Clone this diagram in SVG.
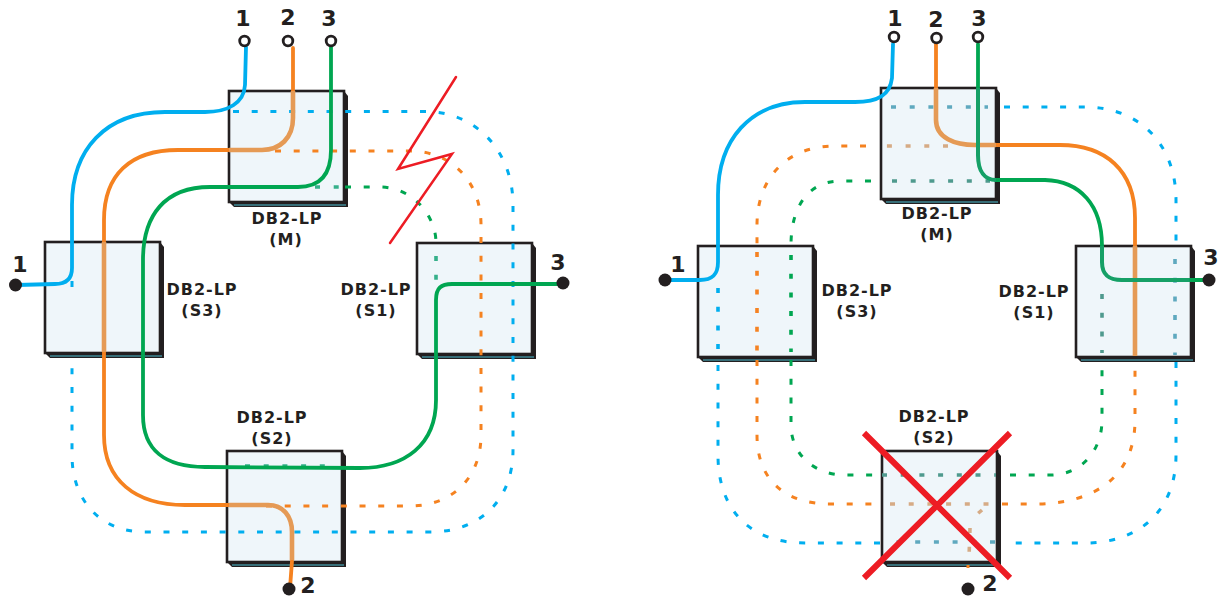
<svg xmlns="http://www.w3.org/2000/svg" width="1219" height="596" viewBox="0 0 1219 596">
<style>
text{font-family:"DejaVu Sans",Verdana,sans-serif;font-weight:700;fill:#231f20}
.lb{font-size:16px;text-anchor:middle;letter-spacing:1px}
.n{font-size:22px;text-anchor:middle}
.w{fill:none;stroke-width:3.8;stroke-linecap:round}
.d{fill:none;stroke-width:3;stroke-dasharray:6 12.7}
.v{fill:none;stroke-width:3.6;stroke-dasharray:5 13.7;filter:url(#s)}
.b{stroke:#00aeef}.o{stroke:#f58220}.g{stroke:#00a651}
.fo{fill:none;stroke:#e59a55;stroke-width:4.6;filter:url(#s)}
.fg{fill:none;stroke:#12a066;stroke-width:4;filter:url(#s)}
.fd{fill:none;stroke-width:3.6;stroke-dasharray:5 13.7;filter:url(#s)}
.db{stroke:#5fa9bf}.do{stroke:#d6ab85}.dg{stroke:#4f9a8e}.dl{stroke:#35b08a}
.dot{fill:#231f20}
.ring{fill:#fff;stroke:#231f20;stroke-width:2.8}
.red{fill:none;stroke:#ed1c24;stroke-linecap:round}
</style>
<defs>
<filter id="s" filterUnits="userSpaceOnUse" x="0" y="0" width="1219" height="596"><feGaussianBlur stdDeviation="0.6"/></filter>
<g id="box">
<path d="M0 0H115L119 5V116H5L0 111Z" fill="#231f20"/>
<rect x="0" y="0" width="115" height="111" fill="#eff6fa" stroke="#231f20" stroke-width="2.6"/>
<path d="M5 114H117" stroke="#3f8a96" stroke-width="1.3" fill="none"/>
</g>
</defs>

<g id="left-M"><use href="#box" transform="translate(229,91)"/><text class="lb" x="287" y="224">DB2-LP</text><text class="lb" x="286" y="245">(M)</text></g>
<g id="left-S3"><use href="#box" transform="translate(45,242)"/><text class="lb" x="202" y="295">DB2-LP</text><text class="lb" x="202" y="316">(S3)</text></g>
<g id="left-S1"><use href="#box" transform="translate(417,243)"/><text class="lb" x="376" y="295">DB2-LP</text><text class="lb" x="376" y="316">(S1)</text></g>
<g id="left-S2"><use href="#box" transform="translate(227,451)"/><text class="lb" x="272" y="423">DB2-LP</text><text class="lb" x="272" y="444">(S2)</text></g>
<g id="right-M"><use href="#box" transform="translate(881,88)"/><text class="lb" x="937" y="219">DB2-LP</text><text class="lb" x="937" y="240">(M)</text></g>
<g id="right-S3"><use href="#box" transform="translate(698,246)"/><text class="lb" x="857" y="296">DB2-LP</text><text class="lb" x="857" y="317">(S3)</text></g>
<g id="right-S1"><use href="#box" transform="translate(1076,246)"/><text class="lb" x="1034" y="297">DB2-LP</text><text class="lb" x="1034" y="318">(S1)</text></g>
<g id="right-S2"><use href="#box" transform="translate(882,451)"/><text class="lb" x="934" y="422">DB2-LP</text><text class="lb" x="934" y="443">(S2)</text></g>

<g id="connectors">
<path class="d b" d="M233 111.500H425C475 111.500 513 150 513 205V450C513 500 480 532 430 532H145C100 532 72 500 72 455V358"/>
<path class="d b" d="M72 281V287"/>
<path class="d o" d="M275 151H410C450 151 481 180 481 225V435C481 480 450 506 410 506H266"/>
<path class="d g" d="M345 187H380C412 187 436 215 436 243"/>
<path class="fd dl" d="M315 187H343"/>
<path class="fd dl" d="M436 256V285"/>
<path class="fd dl" d="M245 466H328"/>
<path class="w b" d="M246 47L245 85C244 103 228 112 205 112H165C105 112 72 150 72 205V268C72 280 65 284 55 284L17 285"/>
<path class="w o" d="M293 48V91M229 150H178C130 150 104 175 104 220V242M104 352V435C104 480 135 505 185 505H229M292 561L290 588"/>
<path class="fo" d="M293 91V118C293 138 280 150 262 150H229"/>
<path class="fo" d="M104 242V352"/>
<path class="fo" d="M229 505H268C283 505 292 516 292 532V560"/>
<path class="w g" d="M331 46V150C331 175 320 187 298 187H210C165 187 143 215 143 260V415C143 450 165 467 205 467L360 468C405 468 436 445 436 400V300C436 288 441 284 452 284L563 284"/>
<path class="fd db" d="M891 107H988"/>
<path class="d b" d="M1004 107H1085C1140 107 1176 145 1176 200V248"/>
<path class="fd db" d="M1175 259V355"/>
<path class="d b" d="M1176 362V455C1176 510 1140 543 1085 543H1004"/>
<path class="fd db" d="M995 542H888"/>
<path class="d b" d="M880 543H805C750 543 718 510 718 455V360"/>
<path class="v b" d="M718 288V352"/>
<path class="fd do" d="M948 146H876"/>
<path class="d o" d="M866 146H835C785 146 757 180 757 225V245"/>
<path class="v o" d="M757 252V352"/>
<path class="d o" d="M757 360V435C757 480 785 504 830 504H878"/>
<path class="fd do" d="M890 504H995"/>
<path class="d o" d="M1002 504H1035C1090 504 1135 480 1135 420V360"/>
<path class="fd do" d="M982 510L975 516M970 528L969 558"/>
<path class="d o" d="M968 565V568"/>
<path class="d g" d="M871 181H840C810 181 791 205 791 245"/>
<path class="fd dg" d="M892 181H990"/>
<path class="v g" d="M791 255V352"/>
<path class="d g" d="M791 360V425C791 455 815 475 845 475H880"/>
<path class="fd dg" d="M882 475H996"/>
<path class="d g" d="M1010 475H1050C1082 475 1102 450 1102 420V362"/>
<path class="fd dg" d="M1102 294V353"/>
<path class="w b" d="M893 44L892 78C890 95 878 102 855 102H805C750 102 718 140 718 195V262C718 275 712 280 700 280H668"/>
<path class="w o" d="M936 44V88M996 145H1060C1105 145 1135 170 1135 218V246"/>
<path class="fo" d="M936 88V120C936 138 955 145 975 145H996M1135 246V356"/>
<path class="w g" d="M978 44V88M996 180H1045C1080 181 1102 205 1102 246"/>
<path class="fg" d="M978 88V155C978 172 985 180 996 180M1102 246V262C1102 276 1110 280 1122 280H1191"/>
<path class="w g" d="M1191 280H1206"/>
</g>

<g id="terminals">
<circle class="ring" cx="244.500" cy="41" r="4.800"/><circle class="ring" cx="288" cy="41" r="4.800"/><circle class="ring" cx="331" cy="41" r="4.800"/>
<circle class="dot" cx="15.500" cy="285" r="6.500"/><circle class="dot" cx="563" cy="283" r="6.500"/><circle class="dot" cx="289" cy="589" r="6.500"/>
<circle class="ring" cx="894" cy="37" r="4.800"/><circle class="ring" cx="936.500" cy="38" r="4.800"/><circle class="ring" cx="978" cy="37" r="4.800"/>
<circle class="dot" cx="665" cy="280" r="6.500"/><circle class="dot" cx="1209" cy="280" r="6.500"/><circle class="dot" cx="968" cy="589" r="6.500"/>
<text class="n" x="243" y="26">1</text><text class="n" x="288" y="25">2</text><text class="n" x="329" y="26">3</text>
<text class="n" x="20" y="272">1</text><text class="n" x="558" y="270">3</text><text class="n" x="308" y="593">2</text>
<text class="n" x="895" y="26">1</text><text class="n" x="936" y="27">2</text><text class="n" x="979" y="26">3</text>
<text class="n" x="678" y="272">1</text><text class="n" x="1211" y="265">3</text><text class="n" x="990" y="591">2</text>
</g>

<path class="red" stroke-width="2.500" stroke-linejoin="miter" d="M456 77L398 169L452 154L390 243"/>
<path class="red" stroke-width="6" style="stroke-linecap:butt" d="M864 433L1010 578M1010 433L864 578"/>
</svg>
